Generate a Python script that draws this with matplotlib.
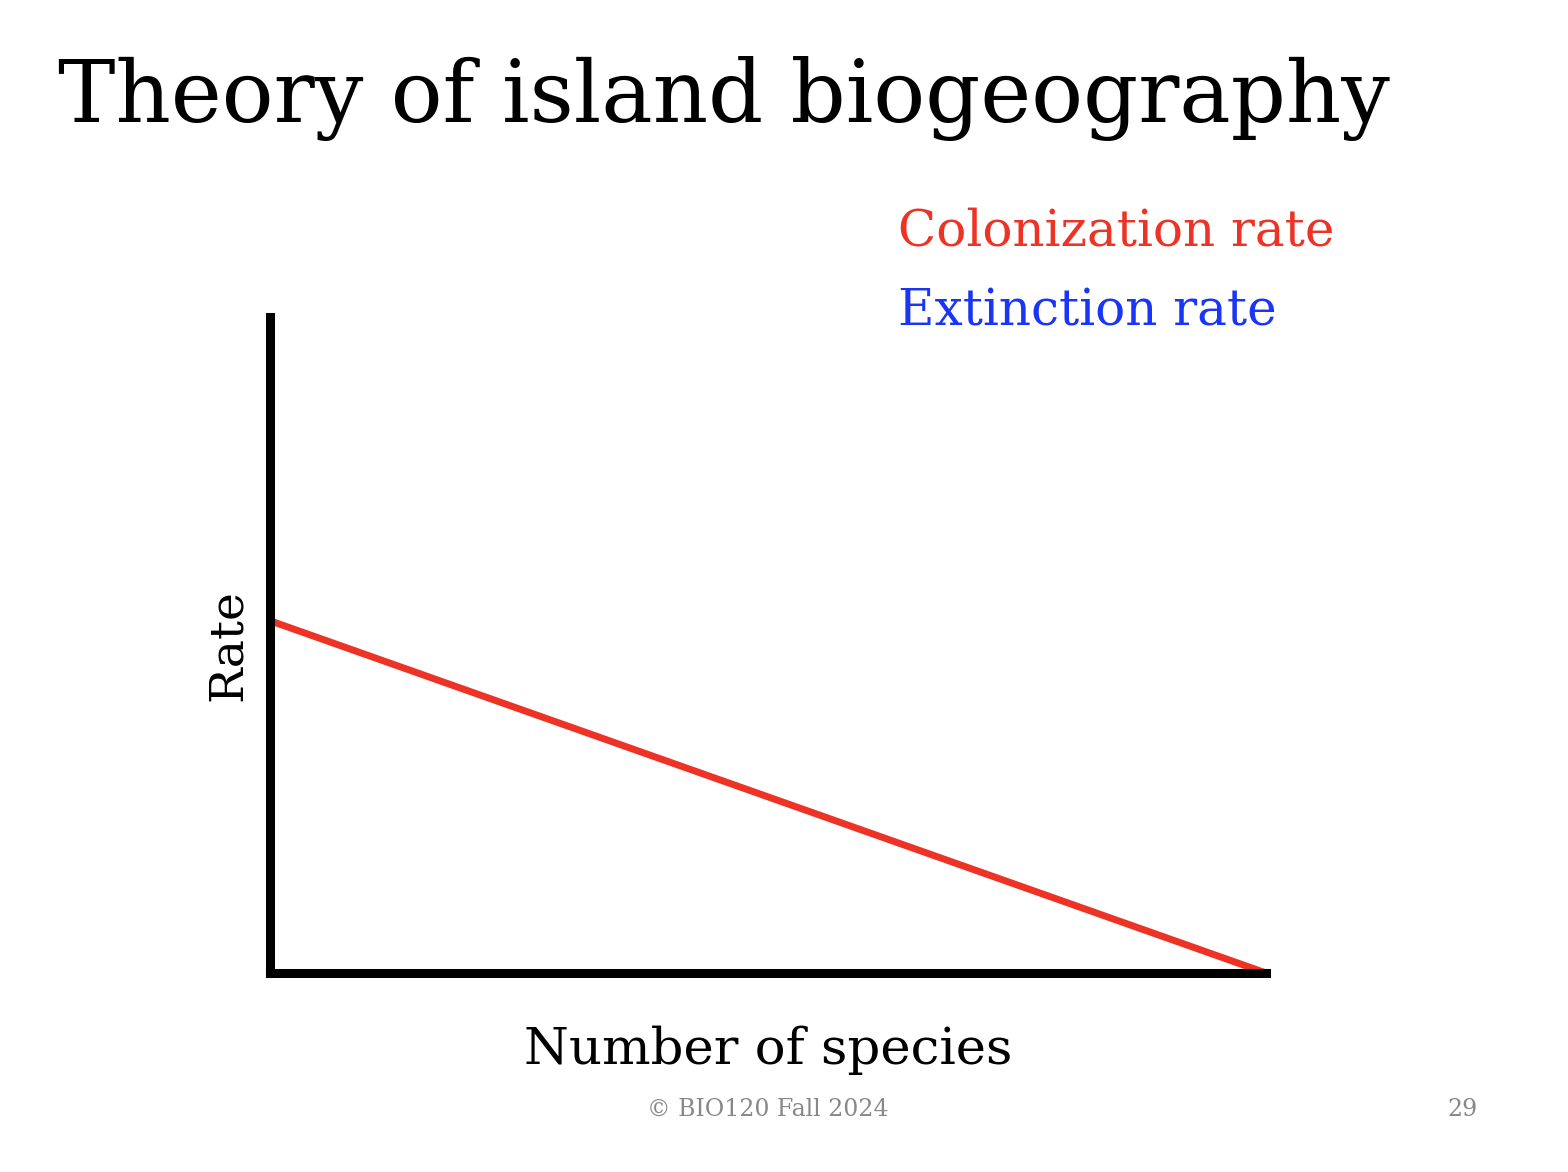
import numpy as np
import matplotlib.pyplot as plt

'''Data read from the slide'''

# Number of species (relative scale) and colonization rate
species = [0, 100]
colonization = [53.7, 0]

title = 'Theory of island biogeography'
legend_labels = ['Colonization rate', 'Extinction rate']
legend_colors = ['#ec3326', '#1a35f5']

#-----------------------#
#    The plot begins    #
#-----------------------#

plt.rcParams['font.family'] = ['DejaVu Serif']

fig = plt.figure(figsize=(15.68, 11.72), dpi=100)
ax = fig.add_axes([0.1722, 0.1698, 0.8074 - 0.1722, 0.7295 - 0.1698])

ax.plot(species, colonization, '-', color=legend_colors[0], lw=5,
        solid_capstyle='butt', clip_on=False)
ax.set_xlim(0, 100)
ax.set_ylim(0, 100)

for side in ['top', 'right']:
    ax.spines[side].set_visible(False)
for side in ['left', 'bottom']:
    ax.spines[side].set_linewidth(6.5)
    ax.spines[side].set_color('black')
ax.set_xticks([])
ax.set_yticks([])

ax.set_xlabel('Number of species', fontsize=37, labelpad=38)
ax.set_ylabel('Rate', fontsize=34, labelpad=14)

fig.text(58/1568, 1 - 122/1172, title, fontsize=62, ha='left', va='baseline')
fig.text(898/1568, 1 - 245/1172, legend_labels[0], fontsize=36,
         color=legend_colors[0], ha='left', va='baseline')
fig.text(898/1568, 1 - 325/1172, legend_labels[1], fontsize=36,
         color=legend_colors[1], ha='left', va='baseline')

fig.text(768/1568, 1 - 1116/1172, '© BIO120 Fall 2024', fontsize=17,
         color='#888888', ha='center', va='baseline')
fig.text(1478/1568, 1 - 1116/1172, '29', fontsize=17,
         color='#888888', ha='right', va='baseline')

plt.savefig('out.png', dpi=100)
